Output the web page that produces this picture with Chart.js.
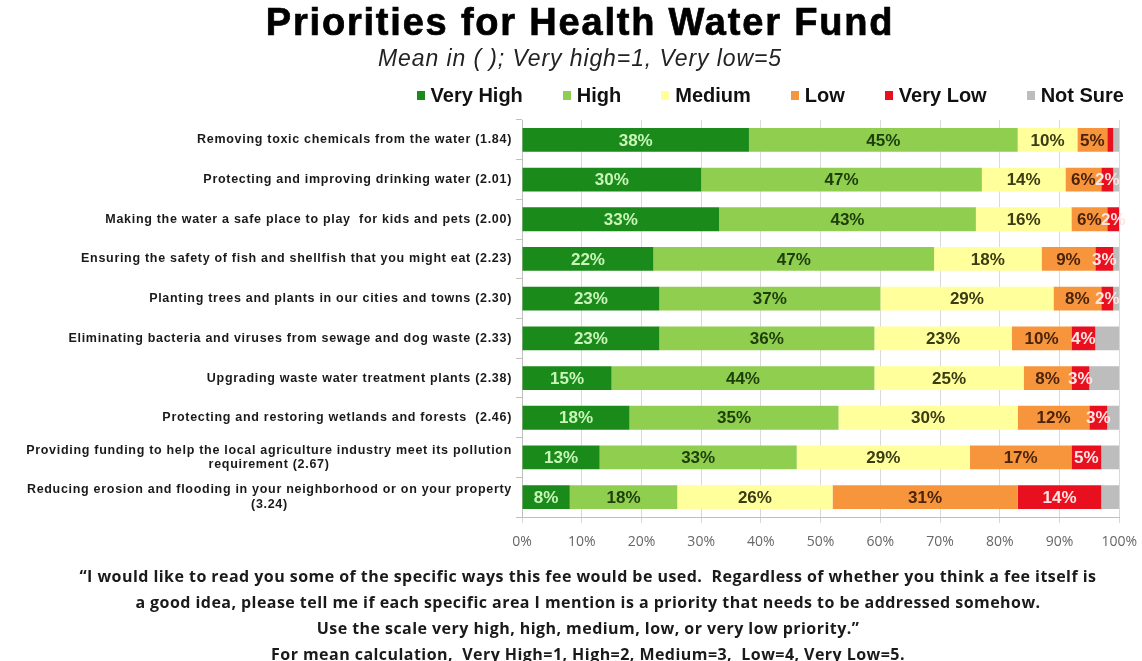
<!DOCTYPE html>
<html>
<head>
<meta charset="utf-8">
<title>Priorities for Health Water Fund</title>
<script src="https://cdn.jsdelivr.net/npm/chart.js@4.4.1/dist/chart.umd.min.js"></script>
<style>
  html, body { margin: 0; padding: 0; background: #fff; }
  #page { position: relative; width: 1142px; height: 661px; overflow: hidden; font-family: 'Liberation Sans', Arial, sans-serif; }
  #chartBox { position: absolute; left: 0; top: 0; width: 1142px; height: 661px; }
  #title { position: absolute; left: 9px; top: 0; width: 1142px; text-align: center; font-weight: bold; font-size: 38px; line-height: 44px; letter-spacing: 1.8px; color: #000; -webkit-text-stroke: 0.7px #000; }
  #subtitle { position: absolute; left: 9px; top: 45px; width: 1142px; text-align: center; font-style: italic; font-size: 23px; line-height: 26px; letter-spacing: 0.9px; color: #222; }
  #legend { position: absolute; right: 18px; top: 84px; display: flex; align-items: center; font-weight: bold; font-size: 20px; line-height: 22px; color: #111; }
  #legend .item { display: flex; align-items: center; margin-left: 40px; }
  #legend .item:first-child { margin-left: 0; }
  #legend .swatch { width: 8px; height: 9px; margin-right: 6px; }
  #footer { position: absolute; left: 0; top: 563px; width: 1176px; text-align: center; font-family: 'Open Sans', sans-serif; font-weight: 700; font-size: 16px; line-height: 26px; letter-spacing: 0.45px; color: #1a1a1a; white-space: pre; }
</style>
</head>
<body>
<div id="page">
  <div id="chartBox"><canvas id="chart"></canvas></div>
  <div id="title">Priorities for Health Water Fund</div>
  <div id="subtitle">Mean in ( ); Very high=1, Very low=5</div>
  <div id="legend"></div>
  <div id="footer">“I would like to read you some of the specific ways this fee would be used.  Regardless of whether you think a fee itself is
a good idea, please tell me if each specific area I mention is a priority that needs to be addressed somehow.
Use the scale very high, high, medium, low, or very low priority.”
For mean calculation,  Very High=1, High=2, Medium=3,  Low=4, Very Low=5.</div>
</div>
<script>
// survey items, one array of lines per bar
const categories = [
  ['Removing toxic chemicals from the water (1.84)'],
  ['Protecting and improving drinking water (2.01)'],
  ['Making the water a safe place to play  for kids and pets (2.00)'],
  ['Ensuring the safety of fish and shellfish that you might eat (2.23)'],
  ['Planting trees and plants in our cities and towns (2.30)'],
  ['Eliminating bacteria and viruses from sewage and dog waste (2.33)'],
  ['Upgrading waste water treatment plants (2.38)'],
  ['Protecting and restoring wetlands and forests  (2.46)'],
  ['Providing funding to help the local agriculture industry meet its pollution', 'requirement (2.67)'],
  ['Reducing erosion and flooding in your neighborhood or on your property', '(3.24)']
];

const seriesNames = ['Very High', 'High', 'Medium', 'Low', 'Very Low', 'Not Sure'];

// percentages per item
const veryHigh = [38, 30, 33, 22, 23, 23, 15, 18, 13, 8];
const high     = [45, 47, 43, 47, 37, 36, 44, 35, 33, 18];
const medium   = [10, 14, 16, 18, 29, 23, 25, 30, 29, 26];
const low      = [5, 6, 6, 9, 8, 10, 8, 12, 17, 31];
const veryLow  = [1, 2, 2, 3, 2, 4, 3, 3, 5, 14];
const notSure  = [1, 1, 0, 1, 1, 4, 5, 2, 3, 3];

const seriesColors = ['#1a8a1a', '#8fce4f', '#ffff9b', '#f7953c', '#e8101e', '#bdbdbd'];
const valueColors  = ['#c9f5b9', '#1d3d0a', '#3b3b14', '#4a230a', '#ffe4e4', null];

const seriesData = [veryHigh, high, medium, low, veryLow, notSure];

// percent text centred inside each segment
const valueLabels = {
  id: 'valueLabels',
  afterDatasetsDraw(chart) {
    const ctx = chart.ctx;
    ctx.save();
    ctx.font = 'bold 17px "Liberation Sans", Arial, sans-serif';
    ctx.textAlign = 'center';
    ctx.textBaseline = 'middle';
    chart.data.datasets.forEach((ds, di) => {
      if (!ds.valueColor) return;
      chart.getDatasetMeta(di).data.forEach((bar, i) => {
        const v = ds.data[i];
        if (v < 2) return;
        ctx.fillStyle = ds.valueColor;
        ctx.fillText(v + '%', (bar.x + bar.base) / 2, bar.y + 1);
      });
    });
    ctx.restore();
  }
};

// item names: single lines right aligned, wrapped ones centred on their widest line
const categoryLabels = {
  id: 'categoryLabels',
  afterDraw(chart) {
    const ctx = chart.ctx;
    const yScale = chart.scales.y;
    const right = chart.chartArea.left - 10;
    const lineH = 14.5;
    ctx.save();
    ctx.font = 'bold 12.5px "Liberation Sans", Arial, sans-serif';
    ctx.letterSpacing = '0.7px';
    ctx.fillStyle = '#1a1a1a';
    ctx.textAlign = 'center';
    ctx.textBaseline = 'middle';
    categories.forEach((lines, i) => {
      const widest = Math.max(...lines.map(t => ctx.measureText(t).width));
      const cx = right - widest / 2;
      const top = yScale.getPixelForValue(i) - (lines.length - 1) * lineH / 2;
      lines.forEach((t, k) => ctx.fillText(t, cx, top + k * lineH));
    });
    ctx.restore();
  }
};

const chart = new Chart(document.getElementById('chart'), {
  type: 'bar',
  data: {
    labels: categories.map(l => l.join(' ')),
    datasets: seriesNames.map((name, k) => ({
      label: name,
      data: seriesData[k],
      backgroundColor: seriesColors[k],
      valueColor: valueColors[k],
      borderWidth: 0,
      categoryPercentage: 0.6,
      barPercentage: 1
    }))
  },
  options: {
    indexAxis: 'y',
    responsive: true,
    maintainAspectRatio: false,
    animation: false,
    layout: { padding: { top: 120, right: 18, bottom: 100, left: 0 } },
    plugins: {
      legend: { display: false },
      tooltip: { enabled: false }
    },
    scales: {
      x: {
        stacked: true,
        min: 0,
        max: 100,
        ticks: {
          stepSize: 10,
          callback: v => v + '%',
          padding: 5,
          color: '#666',
          font: { family: "'Open Sans', sans-serif", size: 14, lineHeight: 2 }
        },
        grid: { color: '#d9d9d9', tickLength: 6 },
        border: { color: '#bfbfbf' }
      },
      y: {
        stacked: true,
        ticks: { display: false },
        grid: { drawOnChartArea: false, tickLength: 6, color: '#bfbfbf' },
        border: { color: '#bfbfbf' },
        afterFit: scale => { scale.width = 522; }
      }
    }
  },
  plugins: [valueLabels, categoryLabels]
});

// legend row built from the chart's own datasets
const legendEl = document.getElementById('legend');
chart.data.datasets.forEach(ds => {
  const item = document.createElement('div');
  item.className = 'item';
  const sw = document.createElement('span');
  sw.className = 'swatch';
  sw.style.background = ds.backgroundColor;
  item.appendChild(sw);
  item.appendChild(document.createTextNode(ds.label));
  legendEl.appendChild(item);
});
</script>
</body>
</html>
